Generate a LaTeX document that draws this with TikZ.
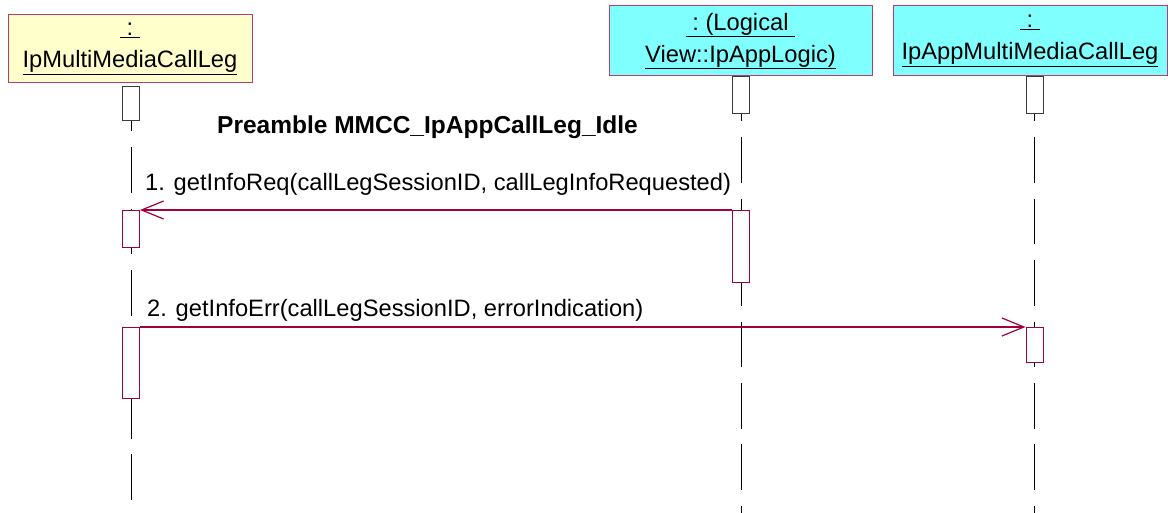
\documentclass[tikz,border=0pt]{standalone}
\usepackage{fontspec}
\setmainfont{Liberation Sans}
\usetikzlibrary{arrows.meta,backgrounds}
\definecolor{boxred}{RGB}{185,60,110}
\definecolor{msgred}{RGB}{160,0,60}
\definecolor{paleyellow}{RGB}{255,255,204}
\definecolor{aqua}{RGB}{128,255,255}
\definecolor{actgray}{RGB}{60,60,60}
\begin{document}
\begin{tikzpicture}[x=1pt,y=-1pt,
  headbox/.style={draw=boxred, line width=1pt, inner sep=0pt, align=center,
    font=\fontsize{23.7}{32}\selectfont},
  actbox/.style={draw=actgray, fill=white, line width=1pt, minimum width=17pt,
    inner sep=0pt, anchor=north},
  actmsg/.style={actbox, draw=msgred},
  lifeline/.style={draw=black, line width=0.9pt, dash pattern=on 45.5pt off 15.9pt},
  msg/.style={draw=msgred, line width=1.2pt,
    -{Straight Barb[length=22pt,width=18pt,line width=1.2pt]}},
  msglabel/.style={anchor=base west, inner sep=0pt, font=\fontsize{23.7}{28}\selectfont},
]
\useasboundingbox (0,0) rectangle (1168,513);

% object boxes
\node[headbox, fill=paleyellow, minimum width=244pt, minimum height=68pt] (obj1) at (130,49)
  {\underline{\ :\ }\\\underline{IpMultiMediaCallLeg}};
\node[headbox, fill=aqua, minimum width=263pt, minimum height=70pt] (obj2) at (740.5,41)
  {\underline{\ :\ (Logical\ }\\\underline{View::IpAppLogic)}};
\node[headbox, fill=aqua, minimum width=274pt, minimum height=70pt] (obj3) at (1030,41)
  {\underline{\ :\ }\\\underline{IpAppMultiMediaCallLeg}};

% activation boxes
\node[actbox, minimum height=34pt] (a1) at (131,86) {};
\node[actbox, minimum height=37pt] (a2) at (741,76) {};
\node[actbox, minimum height=37pt] (a3) at (1034.5,76) {};
\node[actmsg, minimum height=37pt] (m1a) at (131,210) {};
\node[actmsg, minimum height=72pt] (m1b) at (741,210) {};
\node[actmsg, minimum height=71pt] (m2a) at (131,327) {};
\node[actmsg, minimum height=35pt] (m2b) at (1034.5,327) {};

% lifelines
\begin{scope}[on background layer]
  \coordinate (e1) at (131,500);
  \coordinate (e2) at (741,513);
  \coordinate (e3) at (1034.5,513);
  \draw[lifeline] (a1.north) -- (e1);
  \draw[lifeline] (a2.north) -- (e2);
  \draw[lifeline] (a3.north) -- (e3);
\end{scope}

% messages
\draw[msg] (m1b.north west) -- (m1a.north east);
\draw[msg] (m2a.north east) -- (m2b.north west);

% labels
\node[msglabel, font=\fontsize{24.5}{28}\selectfont\bfseries] (pre) at (217,134)
  {Preamble MMCC\_IpAppCallLeg\_Idle};
\node[msglabel] (t1) at (145,190.7) {1. getInfoReq(callLegSessionID, callLegInfoRequested)};
\node[msglabel] (t2) at (147,316.7) {2. getInfoErr(callLegSessionID, errorIndication)};
\end{tikzpicture}
\end{document}
